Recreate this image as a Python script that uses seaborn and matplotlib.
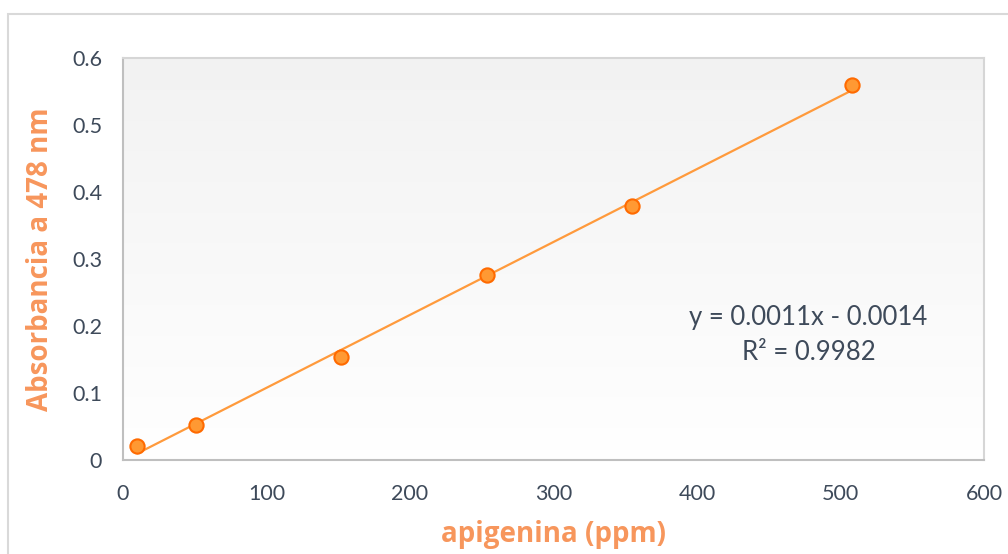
import numpy as np
import pandas as pd
import matplotlib
matplotlib.use("Agg")
import matplotlib.pyplot as plt
from matplotlib.patches import Rectangle
from matplotlib.colors import LinearSegmentedColormap
import seaborn as sns

# data
concentracion = [10, 51, 152, 254, 355, 508]
absorbancia = [0.021, 0.052, 0.154, 0.276, 0.379, 0.559]
x_ticks = [0, 100, 200, 300, 400, 500, 600]
y_ticks = [0, 0.1, 0.2, 0.3, 0.4, 0.5, 0.6]
y_tick_labels = ["0", "0.1", "0.2", "0.3", "0.4", "0.5", "0.6"]
equation_text = "y = 0.0011x - 0.0014\nR² = 0.9982"
x_label = "apigenina (ppm)"
y_label = "Absorbancia a 478 nm"

df = pd.DataFrame({"x": concentracion, "y": absorbancia})

sns.set_theme(style="white")
plt.rcParams['font.family'] = ['Lato', 'DejaVu Sans']

W, H = 1008, 554
fig = plt.figure(figsize=(W / 100, H / 100), dpi=100)
fig.patch.set_facecolor("white")

# outer chart border (cropped at right/bottom)
fig.patches.append(Rectangle((8 / W, -0.05), 1.2, 1 - 14 / H + 0.05,
                             transform=fig.transFigure, fill=False,
                             edgecolor="#d9d9d9", linewidth=1.5, zorder=0))

left, right, top, bottom = 123, 984, 58, 460
ax = fig.add_axes([left / W, (H - bottom) / H, (right - left) / W, (bottom - top) / H])

# gradient background
grad = np.linspace(1, 0, 256).reshape(-1, 1)
cmap = LinearSegmentedColormap.from_list("bg", ["#ffffff", "#f2f2f2"])
ax.imshow(grad, cmap=cmap, aspect="auto", extent=[0, 1, 0, 1],
          transform=ax.transAxes, zorder=0, vmin=0, vmax=1)

line_color = "#ff9a3c"
sns.regplot(data=df, x="x", y="y", ax=ax, ci=None, truncate=True,
            scatter_kws=dict(s=105, color="#ff9933", edgecolors="#ff6a00",
                             linewidths=1.5, zorder=4, alpha=1),
            line_kws=dict(color=line_color, linewidth=1.6, zorder=3))

ax.set_xlim(0, 600)
ax.set_ylim(0, 0.6)
ax.set_xticks(x_ticks)
ax.set_yticks(y_ticks)
ax.set_yticklabels(y_tick_labels)
ax.tick_params(axis="both", length=0, labelsize=15.5, colors="#3e4a5a")
ax.tick_params(axis="y", pad=15)
ax.tick_params(axis="x", pad=17)

for s in ["left", "bottom"]:
    ax.spines[s].set_color("#bfbfbf")
    ax.spines[s].set_linewidth(1.5)
for s in ["top", "right"]:
    ax.spines[s].set_color("#d6d6d6")
    ax.spines[s].set_linewidth(1.5)

label_font = dict(family=["Open Sans", "DejaVu Sans"], fontsize=20,
                  fontweight="bold", color="#f7965c")
ax.set_xlabel(x_label, labelpad=12, **label_font)
ax.set_ylabel(y_label, labelpad=12, **label_font)

ax.text(0.796, 0.311, equation_text, transform=ax.transAxes, ha="center",
        va="center", fontsize=18.5, color="#3e4a5a", linespacing=1.5)

fig.savefig("out.png", dpi=100)
